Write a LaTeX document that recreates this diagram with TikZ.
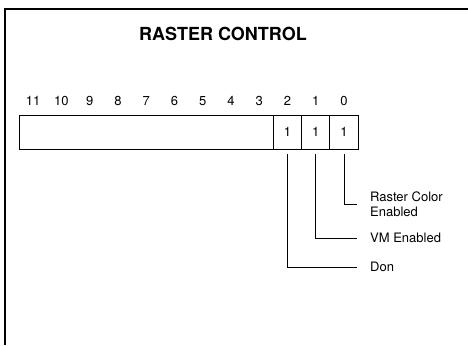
\documentclass[tikz,border=0pt]{standalone}
\usepackage{fontspec}
\setmainfont{TeX Gyre Heros}
\usetikzlibrary{positioning,calc}

\newcommand{\regfont}{\fontsize{13pt}{15pt}\selectfont}
\newcommand{\titlefont}{\fontsize{18pt}{20pt}\selectfont\bfseries}

\tikzset{
  cell/.style={draw, line width=0.8pt, minimum height=34pt, inner sep=0pt, outer sep=0pt,
    font=\regfont},
  bitnum/.style={font=\regfont},
  lead/.style={line width=0.7pt},
  fieldlabel/.style={anchor=west, align=left, inner sep=0pt, font=\regfont}
}

\begin{document}
\begin{tikzpicture}[x=1pt, y=-1pt]
    \useasboundingbox (0,0) rectangle (468,345);

    % open frame
    \draw[line width=1.2pt] (5,345) -- (5,9) -- (468,9);

    \node[font=\titlefont] (title) at (223,34) {RASTER CONTROL};

    % register cells
    \node[cell, minimum width=254.25pt, anchor=north west] (unused) at (19,115) {};
    \node[cell, minimum width=28.25pt, right=0pt of unused] (b2) {1};
    \node[cell, minimum width=28.25pt, right=0pt of b2] (b1) {1};
    \node[cell, minimum width=28.25pt, right=0pt of b1] (b0) {1};

    % bit numbers
    \foreach \i in {0,...,11}
        \node[bitnum] (n\i) at ({358-(\i+0.5)*28.25},101) {\i};

    % field labels
    \node[fieldlabel] (rc) at (370,204) {Raster Color\\Enabled};
    \node[fieldlabel] (vm) at (370,238) {VM Enabled};
    \node[fieldlabel] (don) at (370,267) {Don};

    \draw[lead] ([yshift=-5pt]b0.south) |- ([xshift=-13pt]rc.west);
    \draw[lead] ([yshift=-5pt]b1.south) |- ([xshift=-13pt]vm.west);
    \draw[lead] ([yshift=-5pt]b2.south) |- ([xshift=-13pt]don.west);
\end{tikzpicture}
\end{document}
